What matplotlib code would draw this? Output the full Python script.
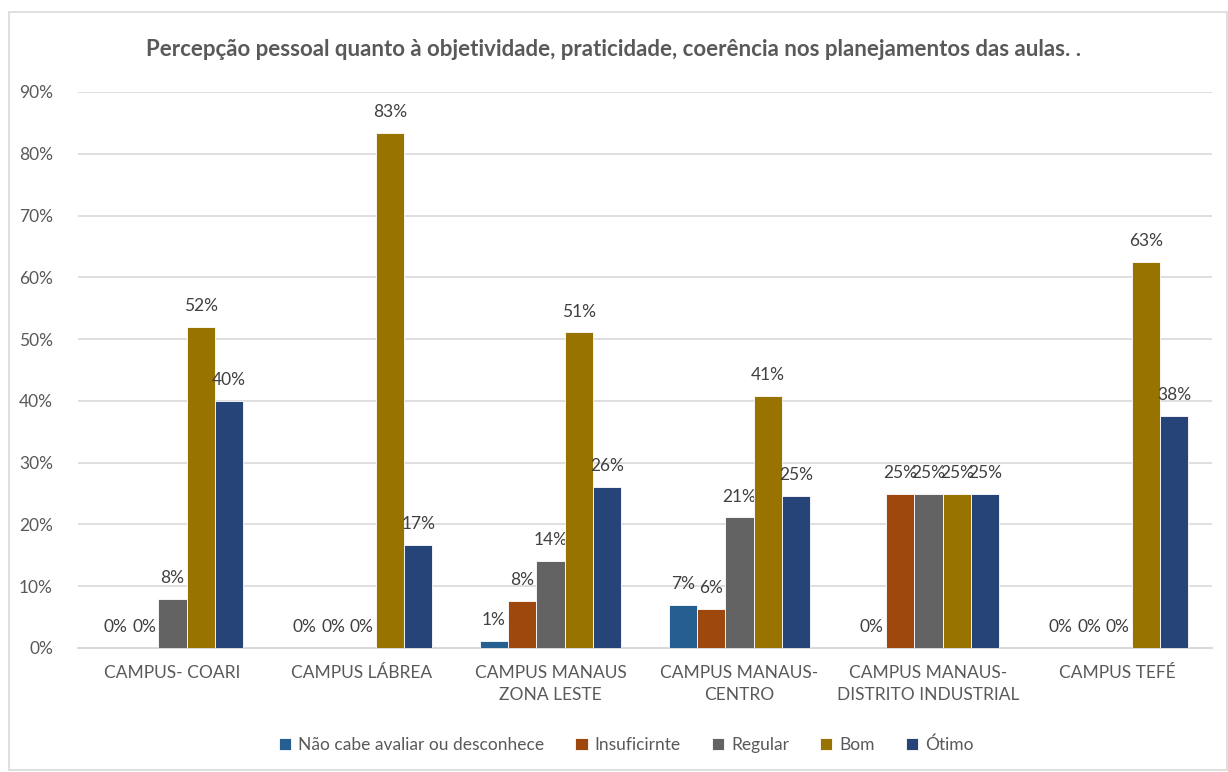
import numpy as np
import matplotlib.pyplot as plt
from matplotlib.patches import Rectangle

plt.rcParams['font.family'] = ['Lato', 'DejaVu Sans']

# dados (percentuais)
campus = ['CAMPUS- COARI', 'CAMPUS LÁBREA', 'CAMPUS MANAUS\nZONA LESTE',
          'CAMPUS MANAUS-\nCENTRO', 'CAMPUS MANAUS-\nDISTRITO INDUSTRIAL', 'CAMPUS TEFÉ']
series = ['Não cabe avaliar ou desconhece', 'Insuficirnte', 'Regular', 'Bom', 'Ótimo']
nao_cabe = [0, 0, 1.09, 7.04, 0, 0]
insuficiente = [0, 0, 7.61, 6.34, 25, 0]
regular = [8, 0, 14.13, 21.13, 25, 0]
bom = [52, 83.33, 51.09, 40.85, 25, 62.5]
otimo = [40, 16.67, 26.09, 24.65, 25, 37.5]
# quais rotulos de zero aparecem no original
show_zero = {(0, 0), (0, 1), (1, 0), (1, 1), (1, 2), (4, 0), (5, 0), (5, 1), (5, 2)}

colors = ['#255E91', '#9E480E', '#636363', '#997300', '#264478']
txt = '#595959'

fig = plt.figure(figsize=(12.28, 7.72), dpi=100)
fig.patches.append(Rectangle((9 / 1228, 0.002), 1 - 10 / 1228, 1 - 12 / 772 - 0.002,
                             transform=fig.transFigure, fill=False,
                             edgecolor='#D9D9D9', linewidth=1.2))
ax = fig.add_axes([78 / 1228, 1 - 648 / 772, 1134 / 1228, 556 / 772])

x = np.arange(len(campus))
w = 0.15
data = [nao_cabe, insuficiente, regular, bom, otimo]
for i, vals in enumerate(data):
    pos = x + (i - 2) * w
    ax.bar(pos, vals, width=w, color=colors[i], edgecolor='white', linewidth=0.6,
           label=series[i], zorder=3)
    for j, v in enumerate(vals):
        if v == 0 and (j, i) not in show_zero:
            continue
        ax.annotate(f'{int(v + 0.5)}%', (pos[j], v), xytext=(0, 15), textcoords='offset points',
                    ha='center', va='center', fontsize=12.5, color='#404040')

ax.set_ylim(0, 90)
ax.set_xlim(-0.5, len(campus) - 0.5)
ax.set_yticks(np.arange(0, 91, 10))
ax.set_yticklabels([f'{t}%' for t in range(0, 91, 10)])
ax.yaxis.grid(True, color='#D9D9D9', linewidth=1.2, zorder=0)
ax.set_xticks(x)
ax.set_xticklabels(campus, linespacing=1.45)
ax.tick_params(axis='both', length=0, labelsize=12.5, colors=txt)
ax.tick_params(axis='x', pad=12)
ax.tick_params(axis='y', pad=18)
for s in ['top', 'right', 'left']:
    ax.spines[s].set_visible(False)
ax.spines['bottom'].set_color('#D9D9D9')
ax.spines['bottom'].set_linewidth(1.5)

fig.text(0.5, 1 - 50 / 772, 'Percepção pessoal quanto à objetividade, praticidade, coerência nos planejamentos das aulas. .',
         ha='center', va='center', fontsize=16, fontweight='bold', color=txt)

leg = fig.legend(loc='center', bbox_to_anchor=(0.51, 1 - 745 / 772), ncol=5, frameon=False,
                 fontsize=12.5, handlelength=0.7, handleheight=0.7, handletextpad=0.4,
                 columnspacing=1.8)
for t in leg.get_texts():
    t.set_color(txt)

fig.savefig('out.png', dpi=100)
